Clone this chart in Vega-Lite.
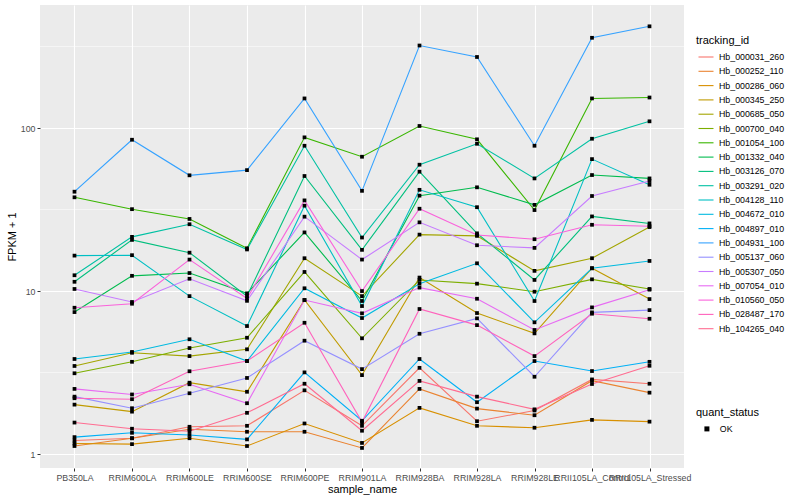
{
  "$schema": "https://vega.github.io/schema/vega-lite/v6.json",
  "width": 644,
  "height": 463,
  "autosize": {"type": "none"},
  "padding": {"left": 40, "top": 5, "right": 116, "bottom": 32},
  "background": "white",
  "config": {
    "font": "Liberation Sans",
    "view": {"fill": "#EBEBEB", "stroke": null},
    "axis": {
      "domain": false,
      "grid": true,
      "gridColor": "#FFFFFF",
      "gridWidth": 1.1,
      "tickColor": "#333333",
      "tickSize": 3,
      "tickWidth": 1,
      "labelFontSize": 8.8,
      "labelColor": "#4D4D4D",
      "labelPadding": 2,
      "titleFontSize": 11,
      "titleFontWeight": "normal",
      "titleColor": "#000000"
    },
    "legend": {
      "padding": 0,
      "titleFontSize": 11,
      "titleFontWeight": "normal",
      "titleColor": "#000000",
      "labelFontSize": 8.8,
      "labelColor": "#000000"
    }
  },
  "datasets": {
    "expr": [
      {"tracking_id": "Hb_000031_260", "quant_status": "OK", "PB350LA": 1.21, "RRIM600LA": 1.25, "RRIM600LE": 1.47, "RRIM600SE": 1.49, "RRIM600PE": 2.46, "RRIM901LA": 1.49, "RRIM928BA": 3.38, "RRIM928LA": 1.59, "RRIM928LE": 1.85, "RRII105LA_Control": 2.87, "RRII105LA_Stressed": 2.70},
      {"tracking_id": "Hb_000252_110", "quant_status": "OK", "PB350LA": 1.12, "RRIM600LA": 1.25, "RRIM600LE": 1.42, "RRIM600SE": 1.37, "RRIM600PE": 1.37, "RRIM901LA": 1.09, "RRIM928BA": 2.51, "RRIM928LA": 1.90, "RRIM928LE": 1.73, "RRII105LA_Control": 2.82, "RRII105LA_Stressed": 2.38},
      {"tracking_id": "Hb_000286_060", "quant_status": "OK", "PB350LA": 1.16, "RRIM600LA": 1.15, "RRIM600LE": 1.25, "RRIM600SE": 1.12, "RRIM600PE": 1.54, "RRIM901LA": 1.17, "RRIM928BA": 1.92, "RRIM928LA": 1.49, "RRIM928LE": 1.45, "RRII105LA_Control": 1.62, "RRII105LA_Stressed": 1.58},
      {"tracking_id": "Hb_000345_250", "quant_status": "OK", "PB350LA": 2.01, "RRIM600LA": 1.82, "RRIM600LE": 2.74, "RRIM600SE": 2.41, "RRIM600PE": 8.81, "RRIM901LA": 3.05, "RRIM928BA": 12.1, "RRIM928LA": 7.33, "RRIM928LE": 5.50, "RRII105LA_Control": 13.8, "RRII105LA_Stressed": 8.93},
      {"tracking_id": "Hb_000685_050", "quant_status": "OK", "PB350LA": 3.47, "RRIM600LA": 4.18, "RRIM600LE": 3.99, "RRIM600SE": 4.39, "RRIM600PE": 15.9, "RRIM901LA": 9.31, "RRIM928BA": 22.2, "RRIM928LA": 21.8, "RRIM928LE": 13.3, "RRII105LA_Control": 15.9, "RRII105LA_Stressed": 24.7},
      {"tracking_id": "Hb_000700_040", "quant_status": "OK", "PB350LA": 3.13, "RRIM600LA": 3.68, "RRIM600LE": 4.47, "RRIM600SE": 5.17, "RRIM600PE": 13.1, "RRIM901LA": 5.13, "RRIM928BA": 11.7, "RRIM928LA": 11.1, "RRIM928LE": 9.91, "RRII105LA_Control": 11.8, "RRII105LA_Stressed": 10.3},
      {"tracking_id": "Hb_001054_100", "quant_status": "OK", "PB350LA": 37.6, "RRIM600LA": 31.8, "RRIM600LE": 27.7, "RRIM600SE": 18.3, "RRIM600PE": 87.7, "RRIM901LA": 66.7, "RRIM928BA": 103, "RRIM928LA": 85.3, "RRIM928LE": 31.4, "RRII105LA_Control": 152, "RRII105LA_Stressed": 154},
      {"tracking_id": "Hb_001332_040", "quant_status": "OK", "PB350LA": 7.43, "RRIM600LA": 12.4, "RRIM600LE": 12.9, "RRIM600SE": 9.68, "RRIM600PE": 22.9, "RRIM901LA": 8.69, "RRIM928BA": 38.5, "RRIM928LA": 43.3, "RRIM928LE": 33.8, "RRII105LA_Control": 51.5, "RRII105LA_Stressed": 49.1},
      {"tracking_id": "Hb_003126_070", "quant_status": "OK", "PB350LA": 11.4, "RRIM600LA": 20.6, "RRIM600LE": 17.2, "RRIM600SE": 9.31, "RRIM600PE": 50.8, "RRIM901LA": 17.9, "RRIM928BA": 54.0, "RRIM928LA": 22.6, "RRIM928LE": 11.7, "RRII105LA_Control": 28.7, "RRII105LA_Stressed": 26.0},
      {"tracking_id": "Hb_003291_020", "quant_status": "OK", "PB350LA": 12.5, "RRIM600LA": 21.5, "RRIM600LE": 25.7, "RRIM600SE": 18.0, "RRIM600PE": 77.9, "RRIM901LA": 21.3, "RRIM928BA": 59.6, "RRIM928LA": 80.1, "RRIM928LE": 49.1, "RRII105LA_Control": 86.0, "RRII105LA_Stressed": 110},
      {"tracking_id": "Hb_004128_110", "quant_status": "OK", "PB350LA": 16.5, "RRIM600LA": 16.6, "RRIM600LE": 9.31, "RRIM600SE": 6.10, "RRIM600PE": 33.4, "RRIM901LA": 8.09, "RRIM928BA": 41.8, "RRIM928LA": 32.7, "RRIM928LE": 8.69, "RRII105LA_Control": 64.5, "RRII105LA_Stressed": 44.9},
      {"tracking_id": "Hb_004672_010", "quant_status": "OK", "PB350LA": 3.83, "RRIM600LA": 4.23, "RRIM600LE": 5.06, "RRIM600SE": 3.72, "RRIM600PE": 10.4, "RRIM901LA": 6.83, "RRIM928BA": 11.1, "RRIM928LA": 14.8, "RRIM928LE": 6.43, "RRII105LA_Control": 13.8, "RRII105LA_Stressed": 15.3},
      {"tracking_id": "Hb_004897_010", "quant_status": "OK", "PB350LA": 1.27, "RRIM600LA": 1.35, "RRIM600LE": 1.31, "RRIM600SE": 1.23, "RRIM600PE": 3.17, "RRIM901LA": 1.60, "RRIM928BA": 3.83, "RRIM928LA": 2.08, "RRIM928LE": 3.72, "RRII105LA_Control": 3.23, "RRII105LA_Stressed": 3.68},
      {"tracking_id": "Hb_004931_100", "quant_status": "OK", "PB350LA": 40.7, "RRIM600LA": 84.8, "RRIM600LE": 51.3, "RRIM600SE": 55.2, "RRIM600PE": 152, "RRIM901LA": 41.2, "RRIM928BA": 321, "RRIM928LA": 273, "RRIM928LE": 77.9, "RRII105LA_Control": 358, "RRII105LA_Stressed": 421},
      {"tracking_id": "Hb_005137_060", "quant_status": "OK", "PB350LA": 2.25, "RRIM600LA": 1.91, "RRIM600LE": 2.36, "RRIM600SE": 2.93, "RRIM600PE": 4.96, "RRIM901LA": 3.32, "RRIM928BA": 5.47, "RRIM928LA": 6.80, "RRIM928LE": 2.98, "RRII105LA_Control": 7.40, "RRII105LA_Stressed": 7.64},
      {"tracking_id": "Hb_005307_050", "quant_status": "OK", "PB350LA": 10.3, "RRIM600LA": 8.57, "RRIM600LE": 11.9, "RRIM600SE": 8.71, "RRIM600PE": 28.6, "RRIM901LA": 15.6, "RRIM928BA": 26.4, "RRIM928LA": 19.1, "RRIM928LE": 18.4, "RRII105LA_Control": 38.3, "RRII105LA_Stressed": 47.3},
      {"tracking_id": "Hb_007054_010", "quant_status": "OK", "PB350LA": 2.51, "RRIM600LA": 2.32, "RRIM600LE": 2.68, "RRIM600SE": 2.05, "RRIM600PE": 8.81, "RRIM901LA": 7.30, "RRIM928BA": 10.5, "RRIM928LA": 8.97, "RRIM928LE": 5.77, "RRII105LA_Control": 7.94, "RRII105LA_Stressed": 10.2},
      {"tracking_id": "Hb_010560_050", "quant_status": "OK", "PB350LA": 7.90, "RRIM600LA": 8.36, "RRIM600LE": 15.6, "RRIM600SE": 9.02, "RRIM600PE": 36.0, "RRIM901LA": 10.0, "RRIM928BA": 32.0, "RRIM928LA": 22.1, "RRIM928LE": 20.8, "RRII105LA_Control": 25.5, "RRII105LA_Stressed": 25.0},
      {"tracking_id": "Hb_028487_170", "quant_status": "OK", "PB350LA": 2.20, "RRIM600LA": 2.17, "RRIM600LE": 3.22, "RRIM600SE": 3.72, "RRIM600PE": 6.39, "RRIM901LA": 1.57, "RRIM928BA": 7.76, "RRIM928LA": 6.18, "RRIM928LE": 3.99, "RRII105LA_Control": 7.26, "RRII105LA_Stressed": 6.76},
      {"tracking_id": "Hb_104265_040", "quant_status": "OK", "PB350LA": 1.56, "RRIM600LA": 1.43, "RRIM600LE": 1.38, "RRIM600SE": 1.79, "RRIM600PE": 2.70, "RRIM901LA": 1.39, "RRIM928BA": 2.81, "RRIM928LA": 2.25, "RRIM928LE": 1.88, "RRII105LA_Control": 2.69, "RRII105LA_Stressed": 3.48}
    ],
    "minor": [{"g": 3.1623}, {"g": 31.623}, {"g": 316.23}]
  },
  "layer": [
    {
      "data": {"name": "minor"},
      "mark": {"type": "rule", "color": "#FFFFFF", "strokeWidth": 0.55},
      "encoding": {
        "y": {"field": "g", "type": "quantitative", "scale": {"type": "log", "domain": [0.821, 569], "nice": false}, "axis": {"title": "FPKM + 1", "values": [1, 10, 100], "format": "d", "titlePadding": 3}}
      }
    },
    {
      "data": {"name": "expr"},
      "transform": [{"fold": ["PB350LA", "RRIM600LA", "RRIM600LE", "RRIM600SE", "RRIM600PE", "RRIM901LA", "RRIM928BA", "RRIM928LA", "RRIM928LE", "RRII105LA_Control", "RRII105LA_Stressed"], "as": ["sample_name", "FPKM"]}],
      "layer": [
        {
          "mark": {"type": "line", "strokeWidth": 1.1},
          "encoding": {
            "x": {"field": "sample_name", "type": "nominal", "sort": ["PB350LA", "RRIM600LA", "RRIM600LE", "RRIM600SE", "RRIM600PE", "RRIM901LA", "RRIM928BA", "RRIM928LA", "RRIM928LE", "RRII105LA_Control", "RRII105LA_Stressed"], "scale": {"type": "point", "padding": 0.6}, "axis": {"title": "sample_name", "labelAngle": 0, "labelOverlap": false, "labelBound": false, "titlePadding": 2}},
            "y": {"field": "FPKM", "type": "quantitative", "scale": {"type": "log", "domain": [0.821, 569], "nice": false}, "axis": {"title": "FPKM + 1", "values": [1, 10, 100], "format": "d", "titlePadding": 3}},
            "color": {
              "field": "tracking_id", "type": "nominal",
              "scale": {"range": ["#F8766D", "#EA8331", "#D89000", "#C09B00", "#A3A500", "#7CAE00", "#39B600", "#00BB4E", "#00BF7D", "#00C1A3", "#00BFC4", "#00BAE0", "#00B0F6", "#35A2FF", "#9590FF", "#C77CFF", "#E76BF3", "#FA62DB", "#FF62BC", "#FF6C91"]},
              "legend": {"title": "tracking_id", "orient": "none", "legendX": 656, "legendY": 30, "symbolType": "stroke", "symbolSize": 225, "symbolStrokeWidth": 1.1, "symbolOffset": 1.5, "rowPadding": 0.3, "titlePadding": 2.5, "labelOffset": 4.5}
            }
          }
        },
        {
          "mark": {"type": "point", "filled": true, "size": 14, "opacity": 1},
          "encoding": {
            "x": {"field": "sample_name", "type": "nominal", "sort": ["PB350LA", "RRIM600LA", "RRIM600LE", "RRIM600SE", "RRIM600PE", "RRIM901LA", "RRIM928BA", "RRIM928LA", "RRIM928LE", "RRII105LA_Control", "RRII105LA_Stressed"], "scale": {"type": "point", "padding": 0.6}, "axis": {"title": "sample_name", "labelAngle": 0, "labelOverlap": false, "labelBound": false, "titlePadding": 2}},
            "y": {"field": "FPKM", "type": "quantitative", "scale": {"type": "log", "domain": [0.821, 569], "nice": false}, "axis": {"title": "FPKM + 1", "values": [1, 10, 100], "format": "d", "titlePadding": 3}},
            "color": {"value": "#000000"},
            "shape": {"field": "quant_status", "type": "nominal", "scale": {"range": ["square"]}, "legend": {"title": "quant_status", "orient": "none", "legendX": 656, "legendY": 402, "symbolSize": 25, "symbolOffset": 6.5, "titlePadding": 6.5, "labelOffset": 8.5, "symbolFillColor": "#000000", "symbolStrokeColor": "#000000"}}
          }
        }
      ]
    }
  ]
}
